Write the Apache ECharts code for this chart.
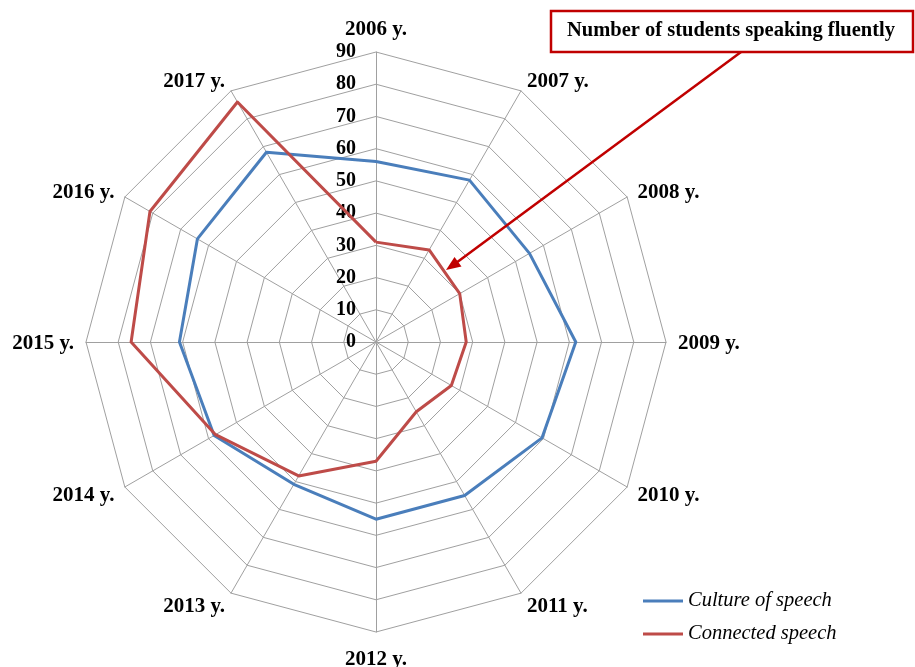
<!DOCTYPE html>
<html>
<head>
<meta charset="utf-8">
<script src="https://cdn.jsdelivr.net/npm/echarts@6/dist/echarts.min.js"></script>
<style>
html,body{margin:0;padding:0;background:#fff;}
#chart{width:915px;height:667px;}
</style>
</head>
<body>
<div id="chart"></div>
<script>
var years = ['2006 y.','2007 y.','2008 y.','2009 y.','2010 y.','2011 y.','2012 y.','2013 y.','2014 y.','2015 y.','2016 y.','2017 y.'];
var cultureOfSpeech = [56, 58, 55, 62, 59.5, 55, 55, 51, 58, 61, 64, 68];
var connectedSpeech = [31, 33, 30, 28, 27, 25, 37, 48, 57.5, 76, 81, 86];
var seriesNames = ['Culture of speech', 'Connected speech'];
var axisMax = 90;
var axisStep = 10;
var annotationText = 'Number of students speaking fluently';

// ECharts radar runs counter-clockwise; reorder so the years run clockwise like the reference
var order = [0];
for (var i = years.length - 1; i >= 1; i--) order.push(i);
function reorder(arr){ return order.map(function(i){ return arr[i]; }); }

var chart = echarts.init(document.getElementById('chart'));
var serif = 'Liberation Serif';
var red = '#c00000';
var nameStyle = {color: '#000', fontFamily: serif, fontWeight: 'bold', fontSize: 21};
function labelClass(name){
  var k = years.indexOf(name);
  if (k === 6) return 'b2';
  if (k >= 4 && k <= 8) return 'b1';
  if (k === 3 || k === 9) return 's';
  if (k === 0) return 't';
  return 'u';
}
var option = {
  backgroundColor: '#fff',
  animation: false,
  legend: {
    data: seriesNames,
    orient: 'vertical',
    left: 643,
    top: 591,
    padding: 0,
    icon: 'rect',
    itemWidth: 40,
    itemHeight: 3,
    itemGap: 13,
    textStyle: {fontFamily: serif, fontStyle: 'italic', fontSize: 20.5, color: '#000'}
  },
  radar: {
    center: [376, 342],
    radius: 290,
    startAngle: 90,
    shape: 'polygon',
    splitNumber: axisMax / axisStep,
    nameGap: 12,
    indicator: reorder(years).map(function(n){ return {name: n, min: 0, max: axisMax}; }),
    axisName: {
      color: '#000', fontFamily: serif, fontWeight: 'bold', fontSize: 21,
      formatter: function(name){ return '{' + labelClass(name) + '|' + name + '}'; },
      rich: {
        t: Object.assign({}, nameStyle),
        u: Object.assign({padding: [0, 0, -3, 0]}, nameStyle),
        s: Object.assign({padding: [3, 0, 0, 0]}, nameStyle),
        b1: Object.assign({padding: [6, 0, 0, 0]}, nameStyle),
        b2: Object.assign({padding: [5, 0, 0, 0]}, nameStyle)
      }
    },
    axisLine: {lineStyle: {color: '#a0a0a0', width: 1}},
    splitLine: {lineStyle: {color: '#a0a0a0', width: 1}},
    splitArea: {show: false},
    axisTick: {show: false},
    axisLabel: {show: false}
  },
  polar: {center: [376, 342], radius: 290},
  angleAxis: {show: false, startAngle: 90, min: 0, max: 360},
  radiusAxis: {
    min: 0, max: axisMax, interval: axisStep,
    axisLine: {show: false}, axisTick: {show: false}, splitLine: {show: false},
    axisLabel: {color: '#000', fontFamily: serif, fontWeight: 'bold', fontSize: 20, margin: 20}
  },
  series: [{
    type: 'radar',
    symbol: 'none',
    data: [
      {name: seriesNames[0], value: reorder(cultureOfSpeech), lineStyle: {color: '#4a7ebb', width: 3}, itemStyle: {color: '#4a7ebb'}},
      {name: seriesNames[1], value: reorder(connectedSpeech), lineStyle: {color: '#be4b48', width: 3}, itemStyle: {color: '#be4b48'}}
    ]
  }],
  graphic: [
    {type: 'rect', shape: {x: 551, y: 11, width: 362, height: 41}, style: {fill: '#fff', stroke: red, lineWidth: 2.5}, z: 10},
    {type: 'text', x: 567, y: 31, style: {text: annotationText, fontFamily: serif, fontWeight: 'bold', fontSize: 20.5, fill: '#000', verticalAlign: 'middle'}, z: 11},
    {type: 'line', shape: {x1: 741, y1: 52, x2: 456, y2: 263}, style: {stroke: red, lineWidth: 2.5}, z: 10},
    {type: 'polygon', shape: {points: [[446, 270], [461.5, 266.5], [454.5, 257]]}, style: {fill: red}, z: 10}
  ]
};
chart.setOption(option);
</script>
</body>
</html>
